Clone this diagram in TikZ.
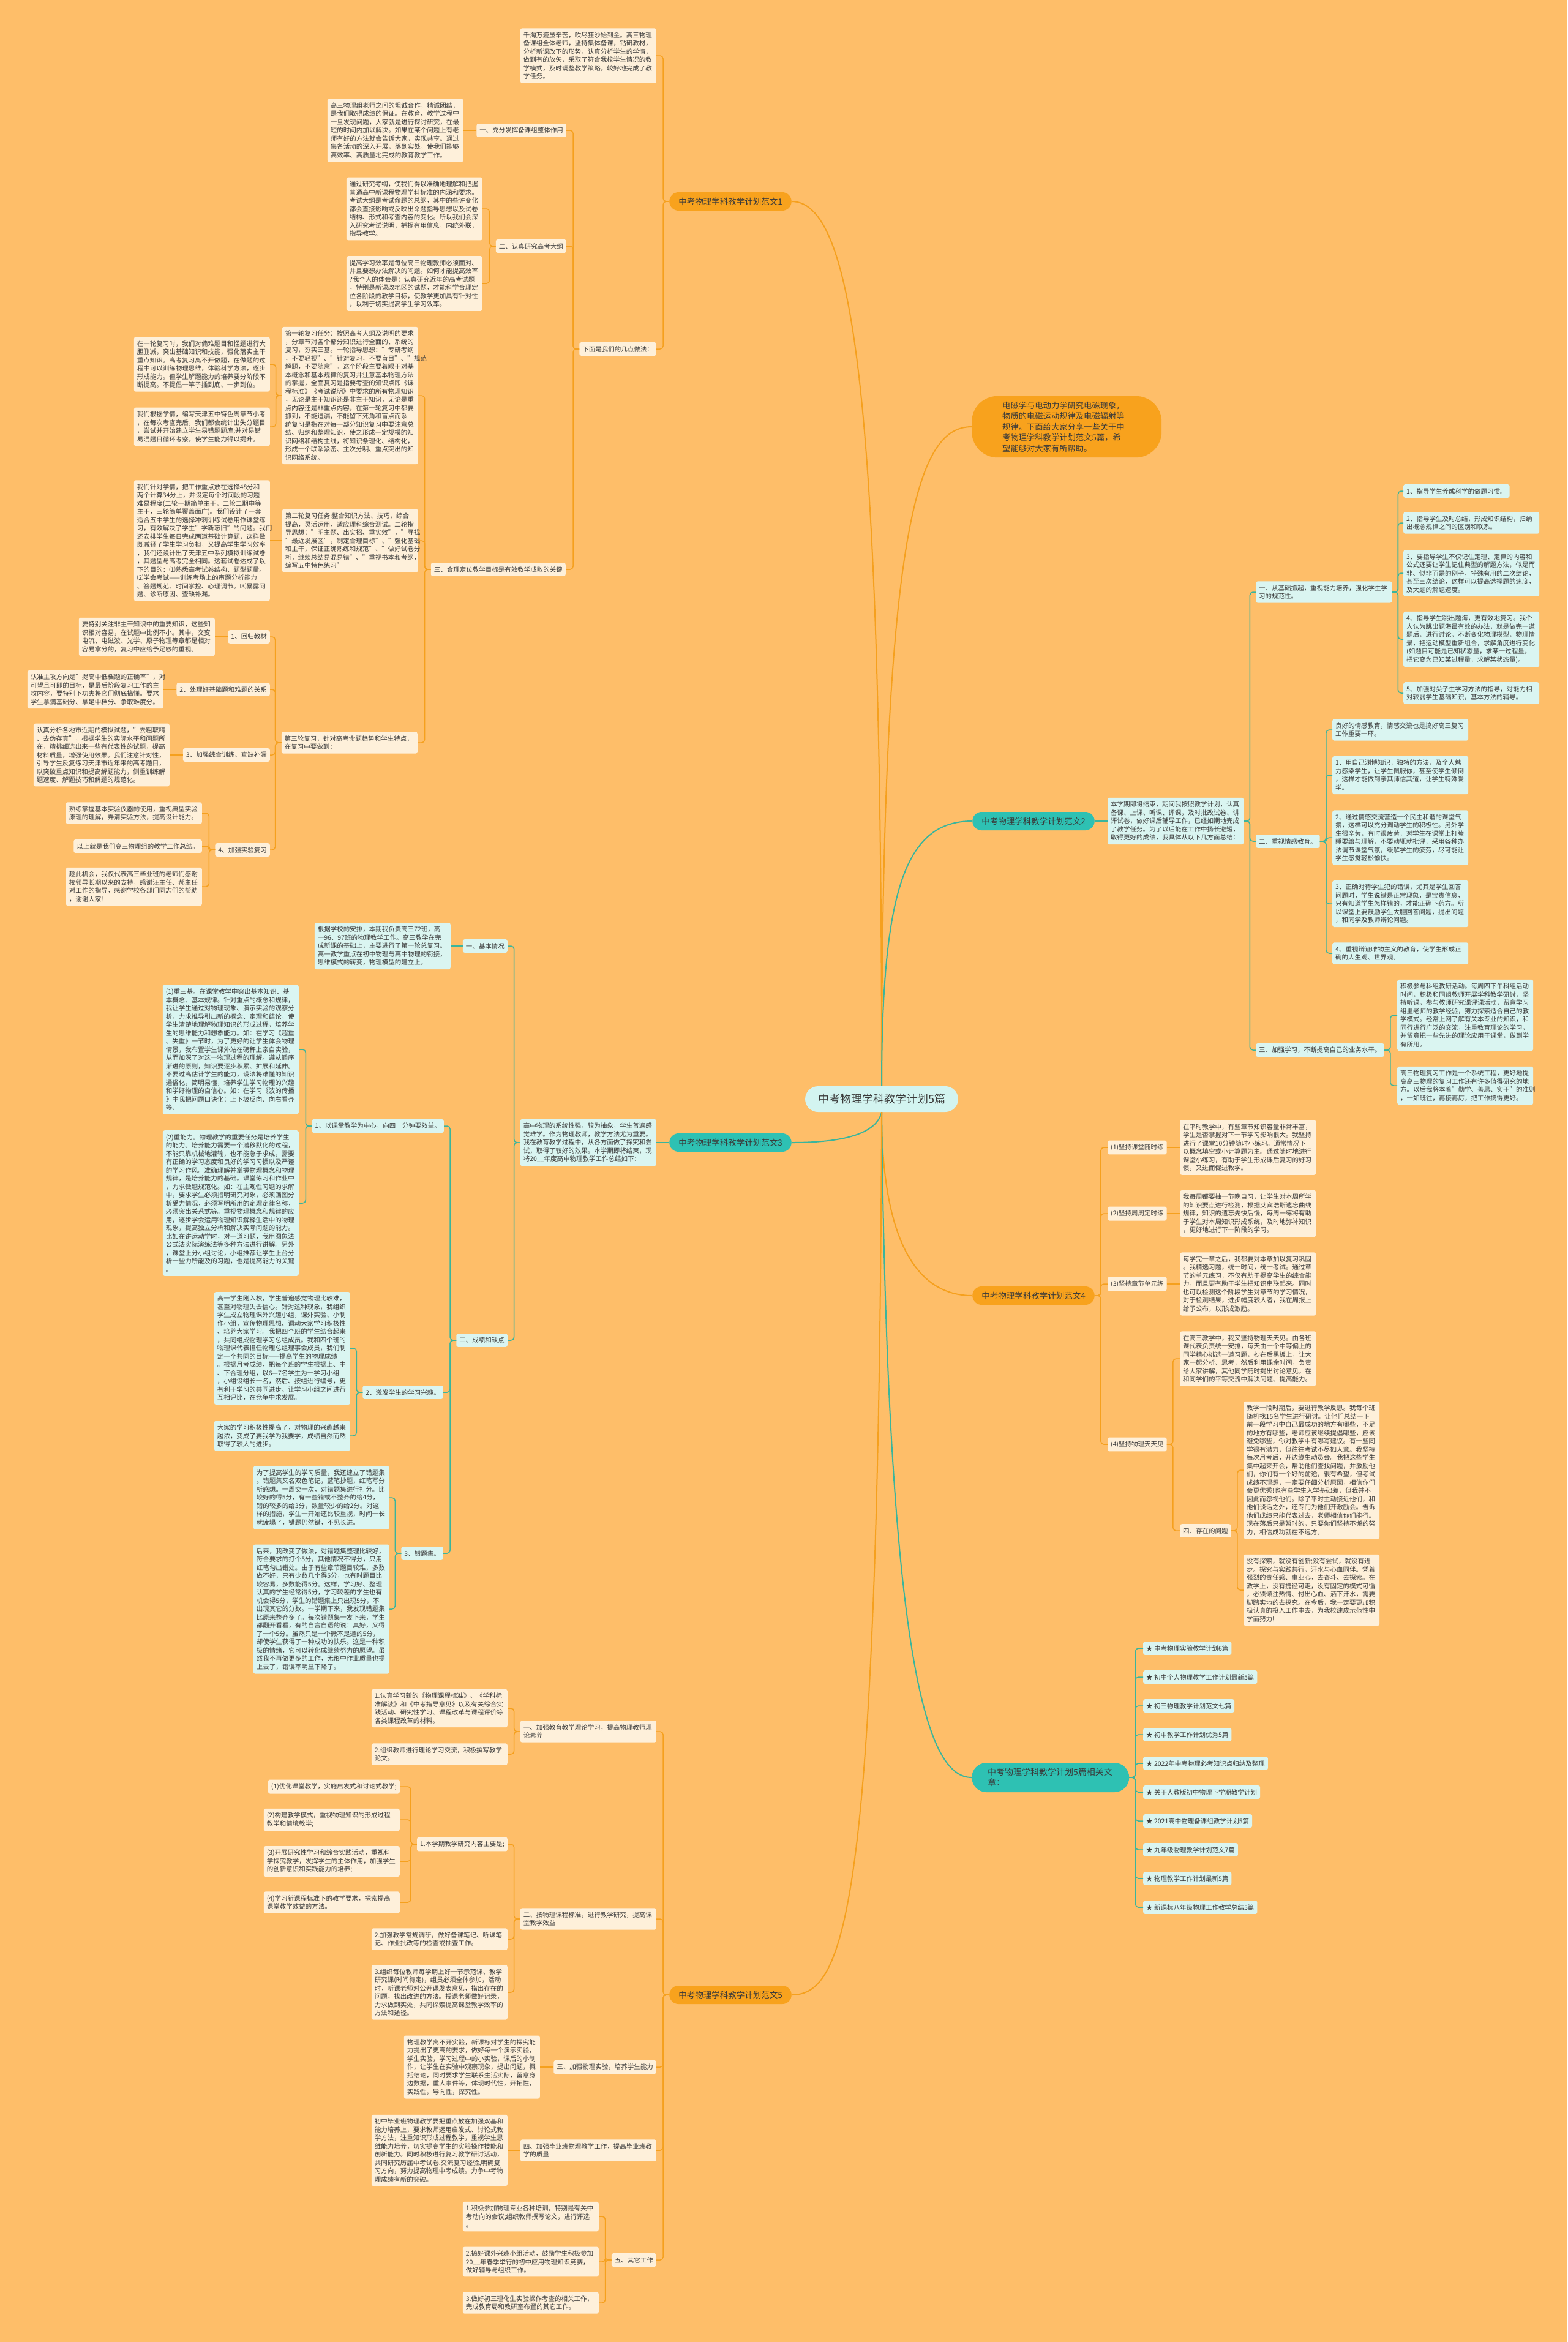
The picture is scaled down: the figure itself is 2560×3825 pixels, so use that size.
\documentclass[tikz,border=0pt]{standalone}
\usepackage{fontspec}
\setmainfont{Noto Sans CJK SC}
\definecolor{paper}{HTML}{FEBE69}
\definecolor{cream}{HTML}{FEF0DA}
\definecolor{mint}{HTML}{DAF5F1}
\definecolor{amber}{HTML}{F8A21D}
\definecolor{teal2}{HTML}{2EC1B3}
\definecolor{amberline}{HTML}{F5A01E}
\definecolor{tealline}{HTML}{3AB59C}
\definecolor{ink}{HTML}{3A3A3A}
\definecolor{rootfill}{HTML}{D3F4F0}
\tikzset{
  bx/.style={rounded corners=3pt,inner xsep=5pt,inner ysep=6pt,align=left,text=ink,
    font=\fontsize{10.5}{13.5}\selectfont},
  obox/.style={bx,fill=cream,text width=212pt},
  tbox/.style={bx,fill=mint,text width=212pt},
  olab/.style={bx,fill=cream},
  tlab/.style={bx,fill=mint},
  branch/.style={rounded corners=15pt,minimum height=30pt,inner xsep=15pt,text=ink,
    font=\fontsize{13.5}{16}\selectfont},
  obranch/.style={branch,fill=amber},
  tbranch/.style={branch,fill=teal2},
  owire/.style={draw=amberline,line width=1.5pt,rounded corners=5pt},
  twire/.style={draw=tealline,line width=1.5pt,rounded corners=5pt},
  omain/.style={draw=amberline,line width=2pt},
  tmain/.style={draw=tealline,line width=2pt}}
\begin{document}
\begin{tikzpicture}[x=1pt,y=-1pt]
\useasboundingbox (0,0) rectangle (2560,3825);
\fill[paper] (0,0) rectangle (2560,3825);

% centre, intro
\node[fill=rootfill,rounded corners=21pt,minimum height=42pt,inner xsep=21pt,text=ink,
  font=\fontsize{18}{22}\selectfont] (root) at (1440,1795) {中考物理学科教学计划5篇};
\node[fill=amber,rounded corners=42pt,text width=210pt,inner xsep=50pt,inner ysep=9pt,align=left,
  text=ink,font=\fontsize{13.3}{17.5}\selectfont,anchor=west] (intro) at (1587,697)
  {电磁学与电动力学研究电磁现象，\\物质的电磁运动规律及电磁辐射等\\规律。下面给大家分享一些关于中\\考物理学科教学计划范文5篇，希\\望能够对大家有所帮助。};

% branch 1
\node[obranch] (b1) at (1193,329) {中考物理学科教学计划范文1};
\node[obox,anchor=east] (p1a) at (1072,91) {千淘万漉虽辛苦，吹尽狂沙始到金。高三物理\\备课组全体老师，坚持集体备课，钻研教材，\\分析新课改下的形势，认真分析学生的学情，\\做到有的放矢，采取了符合我校学生情况的教\\学模式，及时调整教学策略，较好地完成了教\\学任务。};
\node[olab,anchor=east] (p1x) at (1072,570) {下面是我们的几点做法：};
\node[olab,anchor=east] (p1s1) at (925,213) {一、充分发挥备课组整体作用};
\node[obox,anchor=east] (p1s1t) at (757,213) {高三物理组老师之间的坦诚合作，精诚团结，\\是我们取得成绩的保证。在教育、教学过程中\\一旦发现问题，大家就是进行探讨研究，在最\\短的时间内加以解决。如果在某个问题上有老\\师有好的方法就会告诉大家，实现共享。通过\\集备活动的深入开展，落到实处，使我们能够\\高效率、高质量地完成的教育教学工作。};
\node[olab,anchor=east] (p1s2) at (925,402) {二、认真研究高考大纲};
\node[obox,anchor=east] (p1s2a) at (788,341) {通过研究考纲，使我们得以准确地理解和把握\\普通高中新课程物理学科标准的内涵和要求。\\考试大纲是考试命题的总纲，其中的些许变化\\都会直接影响或反映出命题指导思想以及试卷\\结构、形式和考查内容的变化。所以我们会深\\入研究考试说明，捕捉有用信息，内统外联，\\指导教学。};
\node[obox,anchor=east] (p1s2b) at (788,463) {提高学习效率是每位高三物理教师必须面对、\\并且要想办法解决的问题。如何才能提高效率\\?我个人的体会是：认真研究近年的高考试题\\，特别是新课改地区的试题，才能科学合理定\\位各阶段的教学目标，使教学更加具有针对性\\，以利于切实提高学生学习效率。};
\node[olab,anchor=east] (p1s3) at (924,930) {三、合理定位教学目标是有效教学成败的关键};
\node[obox,anchor=east] (p1r1) at (683,646) {第一轮复习任务：按照高考大纲及说明的要求\\，分章节对各个部分知识进行全面的、系统的\\复习，夯实三基。一轮指导思想："专研考纲\\，不要轻视"、"针对复习，不要盲目"、"规范\\解题，不要随意"。这个阶段主要着眼于对基\\本概念和基本规律的复习并注意基本物理方法\\的掌握，全面复习是指要考查的知识点即《课\\程标准》《考试说明》中要求的所有物理知识\\，无论是主干知识还是非主干知识，无论是重\\点内容还是非重点内容，在第一轮复习中都要\\抓到，不能遗漏，不能留下死角和盲点而系\\统复习是指在对每一部分知识复习中要注意总\\结、归纳和整理知识，使之形成一定规模的知\\识网络和结构主线，将知识条理化、结构化，\\形成一个联系紧密、主次分明、重点突出的知\\识网络系统。};
\node[obox,anchor=east] (p1r1a) at (441,595) {在一轮复习时，我们对偏难题目和怪题进行大\\胆删减，突出基础知识和技能，强化落实主干\\重点知识。高考复习离不开做题，在做题的过\\程中可以训练物理思维，体验科学方法，逐步\\形成能力。但学生解题能力的培养要分阶段不\\断提高。不提倡一竿子插到底、一步到位。};
\node[obox,anchor=east] (p1r1b) at (441,697) {我们根据学情，编写天津五中特色周章节小考\\，在每次考查完后，我们都会统计出失分题目\\，尝试并开始建立学生易错题题库;并对易错\\易混题目循环考察，使学生能力得以提升。};
\node[obox,anchor=east] (p1r2) at (683,883) {第二轮复习任务:整合知识方法、技巧，综合\\提高，灵活运用，适应理科综合测试。二轮指\\导思想："明主题、出实招、重实效"，"寻找\\'最近发展区'，制定合理目标"、"强化基础\\和主干，保证正确熟练和规范"、"做好试卷分\\析，继续总结易混易错"、"重视书本和考纲，\\编写五中特色练习"};
\node[obox,anchor=east] (p1r2a) at (441,883) {我们针对学情，把工作重点放在选择48分和\\两个计算34分上，并设定每个时间段的习题\\难易程度(二轮一期简单主干，二轮二期中等\\主干，三轮简单覆盖面广)。我们设计了一套\\适合五中学生的选择冲刺训练试卷用作课堂练\\习，有效解决了学生"学新忘旧"的问题。我们\\还安排学生每日完成两道基础计算题，这样做\\既减轻了学生学习负担，又提高学生学习效率\\，我们还设计出了天津五中系列模拟训练试卷\\，其题型与高考完全相同。这套试卷达成了以\\下的目的：⑴熟悉高考试卷结构、题型题量。\\⑵学会考试——训练考场上的审题分析能力\\、答题规范、时间掌控、心理调节。⑶暴露问\\题、诊断原因、查缺补漏。};
\node[obox,anchor=east] (p1r3) at (682,1213) {第三轮复习，针对高考命题趋势和学生特点，\\在复习中要做到：};
\node[olab,anchor=east] (p1k1) at (441,1040) {1、回归教材};
\node[obox,anchor=east] (p1k1t) at (351,1040) {要特别关注非主干知识中的重要知识，这些知\\识相对容易，在试题中比例不小。其中，交变\\电流、电磁波、光学、原子物理等章都是相对\\容易拿分的，复习中应给予足够的重视。};
\node[olab,anchor=east] (p1k2) at (441,1126) {2、处理好基础题和难题的关系};
\node[obox,anchor=east] (p1k2t) at (267,1126) {认准主攻方向是"提高中低档题的正确率"，对\\可望且可即的目标，是最后阶段复习工作的主\\攻内容，要特别下功夫将它们彻底搞懂。要求\\学生拿满基础分、拿足中档分、争取难度分。};
\node[olab,anchor=east] (p1k3) at (441,1233) {3、加强综合训练、查缺补漏};
\node[obox,anchor=east] (p1k3t) at (277,1233) {认真分析各地市近期的模拟试题，"去粗取精\\、去伪存真"，根据学生的实际水平和问题所\\在，精挑细选出来一些有代表性的试题，提高\\材料质量，增强使用效果。我们注意针对性，\\引导学生反复练习天津市近年来的高考题目，\\以突破重点知识和提高解题能力，侧重训练解\\题速度、解题技巧和解题的规范化。};
\node[olab,anchor=east] (p1k4) at (441,1388) {4、加强实验复习};
\node[obox,anchor=east] (p1k4a) at (330,1328) {熟练掌握基本实验仪器的使用，重视典型实验\\原理的理解，弄清实验方法，提高设计能力。};
\node[olab,anchor=east] (p1k4b) at (330,1382) {以上就是我们高三物理组的教学工作总结。};
\node[obox,anchor=east] (p1k4c) at (330,1448) {趁此机会，我仅代表高三毕业班的老师们感谢\\校领导长期以来的支持，感谢汪主任、郝主任\\对工作的指导，感谢学校各部门同志们的帮助\\，谢谢大家!};

% branch 3
\node[tbranch] (b3) at (1193,1866) {中考物理学科教学计划范文3};
\node[tbox,anchor=east] (p3a) at (1072,1866) {高中物理的系统性强，较为抽象，学生普遍感\\觉难学。作为物理教师，教学方法尤为重要。\\我在教育教学过程中，从各方面做了探究和尝\\试，取得了较好的效果。本学期即将结束，现\\将20\_\_年度高中物理教学工作总结如下：};
\node[tlab,anchor=east] (p3s1) at (829,1545) {一、基本情况};
\node[tbox,anchor=east] (p3s1t) at (736,1545) {根据学校的安排，本期我负责高三72班，高\\一96、97班的物理教学工作。高三教学在完\\成新课的基础上，主要进行了第一轮总复习。\\高一教学重点在初中物理与高中物理的衔接，\\思维模式的转变，物理模型的建立上。};
\node[tlab,anchor=east] (p3s2) at (829,2189) {二、成绩和缺点};
\node[tlab,anchor=east] (p3k1) at (725,1839) {1、以课堂教学为中心，向四十分钟要效益。};
\node[tbox,anchor=east] (p3k1a) at (488,1714) {(1)重三基。在课堂教学中突出基本知识、基\\本概念、基本规律。针对重点的概念和规律，\\我让学生通过对物理现象、演示实验的观察分\\析，力求推导引出新的概念、定理和结论，使\\学生清楚地理解物理知识的形成过程，培养学\\生的思维能力和想象能力。如：在学习《超重\\、失重》一节时，为了更好的让学生体会物理\\情景，我布置学生课外站在磅秤上亲自实验，\\从而加深了对这一物理过程的理解。遵从循序\\渐进的原则，知识要逐步积累、扩展和延伸。\\不要过高估计学生的能力，设法将难懂的知识\\通俗化，简明易懂，培养学生学习物理的兴趣\\和学好物理的自信心。如：在学习《波的传播\\》中我把问题口诀化：上下坡反向、向右看齐\\等。};
\node[tbox,anchor=east] (p3k1b) at (488,1965) {(2)重能力。物理教学的重要任务是培养学生\\的能力。培养能力需要一个潜移默化的过程，\\不能只靠机械地灌输，也不能急于求成，需要\\有正确的学习态度和良好的学习习惯以及严谨\\的学习作风。准确理解并掌握物理概念和物理\\规律，是培养能力的基础。课堂练习和作业中\\，力求做题规范化。如：在主观性习题的求解\\中，要求学生必须指明研究对象，必须画图分\\析受力情况，必须写明所用的定理定律名称，\\必须突出关系式等。重视物理概念和规律的应\\用，逐步学会运用物理知识解释生活中的物理\\现象，提高独立分析和解决实际问题的能力。\\比如在讲运动学时，对一道习题，我用图象法\\公式法实际演练法等多种方法进行讲解。另外\\，课堂上分小组讨论，小组推荐让学生上台分\\析一些力所能及的习题，也是提高能力的关键\\。};
\node[tlab,anchor=east] (p3k2) at (724,2274) {2、激发学生的学习兴趣。};
\node[tbox,anchor=east] (p3k2a) at (572,2202) {高一学生刚入校，学生普遍感觉物理比较难，\\甚至对物理失去信心。针对这种现象，我组织\\学生成立物理课外兴趣小组，课外实验、小制\\作小组，宣传物理思想、调动大家学习积极性\\、培养大家学习。我把四个班的学生结合起来\\，共同组成物理学习总组成员。我和四个班的\\物理课代表担任物理总组理事会成员，我们制\\定一个共同的目标——提高学生的物理成绩\\。根据月考成绩，把每个班的学生根据上、中\\、下合理分组，以6—7名学生为一学习小组\\，小组设组长一名，然后、按组进行编号，更\\有利于学习的共同进步。让学习小组之间进行\\互相评比，在竞争中求发展。};
\node[tbox,anchor=east] (p3k2b) at (572,2345) {大家的学习积极性提高了，对物理的兴趣越来\\越浓，变成了要我学为我要学，成绩自然而然\\取得了较大的进步。};
\node[tlab,anchor=east] (p3k3) at (724,2537) {3、错题集。};
\node[tbox,anchor=east] (p3k3a) at (636,2446) {为了提高学生的学习质量，我还建立了错题集\\。错题集又名双色笔记，蓝笔抄题，红笔写分\\析感想。一周交一次，对错题集进行打分。比\\较好的得5分，有一些错或不整齐的给4分，\\错的较多的给3分，数量较少的给2分。对这\\样的措施，学生一开始还比较重视，时间一长\\就疲塌了，错题仍然错，不见长进。};
\node[tbox,anchor=east] (p3k3b) at (636,2628) {后来，我改变了做法，对错题集整理比较好，\\符合要求的打个5分，其他情况不得分，只用\\红笔勾出错处。由于有些章节题目较难，多数\\做不好，只有少数几个得5分，也有时题目比\\较容易，多数能得5分。这样，学习好、整理\\认真的学生经常得5分，学习较差的学生也有\\机会得5分，学生的错题集上只出现5分，不\\出现其它的分数。一学期下来，我发现错题集\\比原来整齐多了。每次错题集一发下来，学生\\都翻开看看，有的自言自语的说：真好，又得\\了一个5分。虽然只是一个微不足道的5分，\\却使学生获得了一种成功的快乐。这是一种积\\极的情绪，它可以转化成继续努力的愿望。虽\\然我不再做更多的工作，无形中作业质量也提\\上去了，错误率明显下降了。};

% branch 5
\node[obranch] (b5) at (1193,3258) {中考物理学科教学计划范文5};
\node[obox,anchor=east] (p5s1) at (1072,2828) {一、加强教育教学理论学习，提高物理教师理\\论素养};
\node[obox,anchor=east] (p5s1a) at (829,2790) {1.认真学习新的《物理课程标准》、《学科标\\准解读》和《中考指导意见》以及有关综合实\\践活动、研究性学习、课程改革与课程评价等\\各类课程改革的材料。};
\node[obox,anchor=east] (p5s1b) at (829,2865) {2.组织教师进行理论学习交流，积极撰写教学\\论文。};
\node[obox,anchor=east] (p5s2) at (1072,3134) {二、按物理课程标准，进行教学研究，提高课\\堂教学效益};
\node[olab,anchor=east] (p5k1) at (829,3012) {1.本学期教学研究内容主要是;};
\node[olab,anchor=east] (p5k1a) at (653,2918) {(1)优化课堂教学，实施启发式和讨论式教学;};
\node[obox,anchor=east] (p5k1b) at (653,2972) {(2)构建教学模式，重视物理知识的形成过程\\教学和情境教学;};
\node[obox,anchor=east] (p5k1c) at (653,3040) {(3)开展研究性学习和综合实践活动，重视科\\学探究教学，发挥学生的主体作用，加强学生\\的创新意识和实践能力的培养;};
\node[obox,anchor=east] (p5k1d) at (653,3107) {(4)学习新课程标准下的教学要求，探索提高\\课堂教学效益的方法。};
\node[obox,anchor=east] (p5k2) at (829,3167) {2.加强教学常规调研，做好备课笔记、听课笔\\记、作业批改等的检查或抽查工作。};
\node[obox,anchor=east] (p5k3) at (829,3254) {3.组织每位教师每学期上好一节示范课、教学\\研究课(时间待定)，组员必须全体参加，活动\\时，听课老师对公开课发表意见，指出存在的\\问题，找出改进的方法。授课老师做好记录，\\力求做到实处，共同探索提高课堂教学效率的\\方法和途径。};
\node[olab,anchor=east] (p5s3) at (1072,3376) {三、加强物理实验，培养学生能力};
\node[obox,anchor=east] (p5s3t) at (882,3376) {物理教学离不开实验，新课标对学生的探究能\\力提出了更高的要求，做好每一个演示实验，\\学生实验，学习过程中的小实验，课后的小制\\作，让学生在实验中观察现象，提出问题，概\\括结论，同时要求学生联系生活实际，留意身\\边数据，重大事件等，体现时代性，开拓性，\\实践性，导向性，探究性。};
\node[obox,anchor=east] (p5s4) at (1072,3512) {四、加强毕业班物理教学工作，提高毕业班教\\学的质量};
\node[obox,anchor=east] (p5s4t) at (829,3512) {初中毕业班物理教学要把重点放在加强双基和\\能力培养上，要求教师运用启发式、讨论式教\\学方法，注重知识形成过程教学，重视学生思\\维能力培养，切实提高学生的实验操作技能和\\创新能力。同时积极进行复习教学研讨活动，\\共同研究历届中考试卷,交流复习经验,明确复\\习方向，努力提高物理中考成绩。力争中考物\\理成绩有新的突破。};
\node[olab,anchor=east] (p5s5) at (1072,3691) {五、其它工作};
\node[obox,anchor=east] (p5s5a) at (978,3620) {1.积极参加物理专业各种培训，特别是有关中\\考动向的会议;组织教师撰写论文，进行评选\\。};
\node[obox,anchor=east] (p5s5b) at (978,3694) {2.搞好课外兴趣小组活动，鼓励学生积极参加\\20\_\_年春季举行的初中应用物理知识竞赛，\\做好辅导与组织工作。};
\node[obox,anchor=east] (p5s5c) at (978,3761) {3.做好初三理化生实验操作考查的相关工作，\\完成教育局和教研室布置的其它工作。};

% branch 2
\node[tbranch] (b2) at (1688,1341) {中考物理学科教学计划范文2};
\node[tbox,anchor=west] (p2a) at (1809,1341) {本学期即将结束，期间我按照教学计划，认真\\备课、上课、听课、评课，及时批改试卷、讲\\评试卷，做好课后辅导工作，已经如期地完成\\了教学任务。为了以后能在工作中扬长避短，\\取得更好的成绩，我具体从以下几方面总结：};
\node[tbox,anchor=west] (p2s1) at (2051,967) {一、从基础抓起，重视能力培养，强化学生学\\习的规范性。};
\node[tlab,anchor=west] (p2s1a) at (2292,802) {1、指导学生养成科学的做题习惯。};
\node[tbox,anchor=west] (p2s1b) at (2292,854) {2、指导学生及时总结，形成知识结构，归纳\\出概念规律之间的区别和联系。};
\node[tbox,anchor=west] (p2s1c) at (2292,936) {3、要指导学生不仅记住定理、定律的内容和\\公式还要让学生记住典型的解题方法，似是而\\非、似非而是的例子，特殊有用的二次结论，\\甚至三次结论，这样可以提高选择题的速度，\\及大题的解题速度。};
\node[tbox,anchor=west] (p2s1d) at (2292,1044) {4、指导学生跳出题海，更有效地复习。我个\\人认为跳出题海最有效的办法，就是做完一道\\题后，进行讨论，不断变化物理模型，物理情\\景，把运动模型重新组合，求解角度进行变化\\(如题目可能是已知状态量，求某一过程量，\\把它变为已知某过程量，求解某状态量)。};
\node[tbox,anchor=west] (p2s1e) at (2292,1132) {5、加强对尖子生学习方法的指导，对能力相\\对较弱学生基础知识，基本方法的辅导。};
\node[tlab,anchor=west] (p2s2) at (2051,1374) {二、重视情感教育。};
\node[tbox,anchor=west] (p2s2a) at (2176,1192) {良好的情感教育，情感交流也是搞好高三复习\\工作重要一环。};
\node[tbox,anchor=west] (p2s2b) at (2176,1266) {1、用自己渊博知识，独特的方法，及个人魅\\力感染学生，让学生佩服你，甚至使学生倾倒\\，这样才能做到亲其师信其道，让学生特殊爱\\学。};
\node[tbox,anchor=west] (p2s2c) at (2176,1368) {2、通过情感交流营造一个民主和谐的课堂气\\氛，这样可以充分调动学生的积极性。另外学\\生很辛劳，有时很疲劳，对学生在课堂上打瞌\\睡要给与理解，不要动辄就批评，采用各种办\\法调节课堂气氛，缓解学生的疲劳，尽可能让\\学生感觉轻松愉快。};
\node[tbox,anchor=west] (p2s2d) at (2176,1476) {3、正确对待学生犯的错误，尤其是学生回答\\问题时，学生说错是正常现象，是宝贵信息，\\只有知道学生怎样错的，才能正确下药方。所\\以课堂上要鼓励学生大胆回答问题，提出问题\\，和同学及教师辩论问题。};
\node[tbox,anchor=west] (p2s2e) at (2176,1557) {4、重视辩证唯物主义的教育，使学生形成正\\确的人生观、世界观。};
\node[tlab,anchor=west] (p2s3) at (2051,1715) {三、加强学习，不断提高自己的业务水平。};
\node[tbox,anchor=west] (p2s3a) at (2282,1658) {积极参与科组教研活动。每周四下午科组活动\\时间，积极和同组教师开展学科教学研讨，坚\\持听课，参与教师研究课评课活动，留意学习\\组里老师的教学经验，努力探索适合自己的教\\学模式。经常上网了解有关本专业的知识，和\\同行进行广泛的交流，注重教育理论的学习，\\并留意把一些先进的理论应用于课堂，做到学\\有所用。};
\node[tbox,anchor=west] (p2s3b) at (2282,1773) {高三物理复习工作是一个系统工程，更好地提\\高高三物理的复习工作还有许多值得研究的地\\方。以后我将本着"勤学、善思、实干"的准则\\，一如既往，再接再厉，把工作搞得更好。};

% branch 4
\node[obranch] (b4) at (1688,2116) {中考物理学科教学计划范文4};
\node[olab,anchor=west] (p4k1) at (1809,1874) {(1)坚持课堂随时练};
\node[obox,anchor=west] (p4k1t) at (1927,1874) {在平时教学中，有些章节知识容量非常丰富，\\学生是否掌握对下一节学习影响很大。我坚持\\进行了课堂10分钟随时小练习。通常情况下\\以概念填空或小计算题为主。通过随时地进行\\课堂小练习，有助于学生形成课后复习的好习\\惯，又进而促进教学。};
\node[olab,anchor=west] (p4k2) at (1809,1982) {(2)坚持周周定时练};
\node[obox,anchor=west] (p4k2t) at (1927,1982) {我每周都要抽一节晚自习，让学生对本周所学\\的知识要点进行检测，根据艾宾浩斯遗忘曲线\\规律，知识的遗忘先快后慢，每周一练将有助\\于学生对本周知识形成系统，及时地弥补知识\\，更好地进行下一阶段的学习。};
\node[olab,anchor=west] (p4k3) at (1809,2097) {(3)坚持章节单元练};
\node[obox,anchor=west] (p4k3t) at (1927,2097) {每学完一章之后，我都要对本章加以复习巩固\\。我精选习题，统一时间，统一考试。通过章\\节的单元练习，不仅有助于提高学生的综合能\\力，而且更有助于学生把知识串联起来。同时\\也可以检测这个阶段学生对章节的学习情况，\\对于检测结果，进步幅度较大者，我在周报上\\给予公布，以形成激励。};
\node[olab,anchor=west] (p4k4) at (1809,2359) {(4)坚持物理天天见};
\node[obox,anchor=west] (p4k4a) at (1927,2219) {在高三教学中，我又坚持物理天天见。由各班\\课代表负责统一安排，每天由一个中等偏上的\\同学精心挑选一道习题，抄在后黑板上，让大\\家一起分析、思考，然后利用课余时间，负责\\给大家讲解，其他同学随时提出讨论意见，在\\和同学们的平等交流中解决问题、提高能力。};
\node[olab,anchor=west] (p4k4b) at (1927,2500) {四、存在的问题};
\node[obox,anchor=west] (p4q1) at (2031,2401) {教学一段时期后，要进行教学反思。我每个班\\随机找15名学生进行研讨。让他们总结一下\\前一段学习中自己最成功的地方有哪些，不足\\的地方有哪些，老师应该继续提倡哪些，应该\\避免哪些，你对教学中有哪写建议。有一些同\\学很有潜力，但往往考试不尽如人意。我坚持\\每次月考后，开边缘生动员会。我把这些学生\\集中起来开会，帮助他们查找问题，并激励他\\们，你们有一个好的前途，很有希望，但考试\\成绩不理想，一定要仔细分析原因，相信你们\\会更优秀!也有些学生入学基础差，但我并不\\因此而忽视他们。除了平时主动接近他们，和\\他们谈话之外，还专门为他们开激励会。告诉\\他们成绩只能代表过去，老师相信你们能行。\\现在落后只是暂时的，只要你们坚持不懈的努\\力，相信成功就在不远方。};
\node[obox,anchor=west] (p4q2) at (2031,2597) {没有探索，就没有创新;没有尝试，就没有进\\步。探究与实践共行，汗水与心血同伴。凭着\\强烈的责任感、事业心，去奋斗、去探索。在\\教学上，没有捷径可走，没有固定的模式可循\\，必须倾注热情、付出心血、洒下汗水，需要\\脚踏实地的去探究。在今后，我一定要更加积\\极认真的投入工作中去，为我校建成示范性中\\学而努力!};

% related
\node[fill=teal2,rounded corners=24pt,text width=205pt,inner xsep=26pt,inner ysep=9pt,align=left,
  text=ink,font=\fontsize{14}{17}\selectfont,anchor=west] (rel) at (1587,2903) {中考物理学科教学计划5篇相关文\\章：};
\foreach \t [count=\i] in {中考物理实验教学计划6篇,初中个人物理教学工作计划最新5篇,
  初三物理教学计划范文七篇,初中教学工作计划优秀5篇,2022年中考物理必考知识点归纳及整理,
  关于人教版初中物理下学期教学计划,2021高中物理备课组教学计划5篇,九年级物理教学计划范文7篇,
  物理教学工作计划最新5篇,新课标八年级物理工作教学总结5篇}
  \node[tlab,anchor=west] (rel\i) at (1867,{2645+47*\i}) {★ \t};

% main curves
\draw[omain] (root.north) .. controls (1440,700) and (1400,329) .. (b1.east);
\draw[omain] (root.north) .. controls (1440,850) and (1500,697) .. (intro.west);
\draw[tmain] (root.north) .. controls (1440,1450) and (1480,1341) .. (b2.west);
\draw[tmain] (root.south) .. controls (1430,1860) and (1350,1866) .. (b3.east);
\draw[omain] (root.south) .. controls (1440,1990) and (1480,2116) .. (b4.west);
\draw[tmain] (root.south) .. controls (1450,2750) and (1520,2903) .. (rel.west);
\draw[omain] (root.south) .. controls (1435,3120) and (1380,3258) .. (b5.east);

% wires, left side
\foreach \c in {p1a,p1x} \draw[owire] (b1.west) -- ++(-10,0) |- (\c.east);
\foreach \c in {p1s1,p1s2,p1s3} \draw[owire] (p1x.west) -- ++(-10,0) |- (\c.east);
\draw[owire] (p1s1.west) -- (p1s1t.east);
\foreach \c in {p1s2a,p1s2b} \draw[owire] (p1s2.west) -- ++(-10,0) |- (\c.east);
\foreach \c in {p1r1,p1r2,p1r3} \draw[owire] (p1s3.west) -- ++(-10,0) |- (\c.east);
\foreach \c in {p1r1a,p1r1b} \draw[owire] (p1r1.west) -- ++(-10,0) |- (\c.east);
\draw[owire] (p1r2.west) -- (p1r2a.east);
\foreach \c in {p1k1,p1k2,p1k3,p1k4} \draw[owire] (p1r3.west) -- ++(-10,0) |- (\c.east);
\draw[owire] (p1k1.west) -- (p1k1t.east);
\draw[owire] (p1k2.west) -- (p1k2t.east);
\draw[owire] (p1k3.west) -- (p1k3t.east);
\foreach \c in {p1k4a,p1k4b,p1k4c} \draw[owire] (p1k4.west) -- ++(-10,0) |- (\c.east);

\draw[twire] (b3.west) -- (p3a.east);
\foreach \c in {p3s1,p3s2} \draw[twire] (p3a.west) -- ++(-10,0) |- (\c.east);
\draw[twire] (p3s1.west) -- (p3s1t.east);
\foreach \c in {p3k1,p3k2,p3k3} \draw[twire] (p3s2.west) -- ++(-10,0) |- (\c.east);
\foreach \c in {p3k1a,p3k1b} \draw[twire] (p3k1.west) -- ++(-10,0) |- (\c.east);
\foreach \c in {p3k2a,p3k2b} \draw[twire] (p3k2.west) -- ++(-10,0) |- (\c.east);
\foreach \c in {p3k3a,p3k3b} \draw[twire] (p3k3.west) -- ++(-10,0) |- (\c.east);

\foreach \c in {p5s1,p5s2,p5s3,p5s4,p5s5} \draw[owire] (b5.west) -- ++(-10,0) |- (\c.east);
\foreach \c in {p5s1a,p5s1b} \draw[owire] (p5s1.west) -- ++(-10,0) |- (\c.east);
\foreach \c in {p5k1,p5k2,p5k3} \draw[owire] (p5s2.west) -- ++(-10,0) |- (\c.east);
\foreach \c in {p5k1a,p5k1b,p5k1c,p5k1d} \draw[owire] (p5k1.west) -- ++(-10,0) |- (\c.east);
\draw[owire] (p5s3.west) -- (p5s3t.east);
\draw[owire] (p5s4.west) -- (p5s4t.east);
\foreach \c in {p5s5a,p5s5b,p5s5c} \draw[owire] (p5s5.west) -- ++(-10,0) |- (\c.east);

% wires, right side
\draw[twire] (b2.east) -- (p2a.west);
\foreach \c in {p2s1,p2s2,p2s3} \draw[twire] (p2a.east) -- ++(10,0) |- (\c.west);
\foreach \c in {p2s1a,p2s1b,p2s1c,p2s1d,p2s1e} \draw[twire] (p2s1.east) -- ++(10,0) |- (\c.west);
\foreach \c in {p2s2a,p2s2b,p2s2c,p2s2d,p2s2e} \draw[twire] (p2s2.east) -- ++(10,0) |- (\c.west);
\foreach \c in {p2s3a,p2s3b} \draw[twire] (p2s3.east) -- ++(10,0) |- (\c.west);

\foreach \c in {p4k1,p4k2,p4k3,p4k4} \draw[owire] (b4.east) -- ++(10,0) |- (\c.west);
\draw[owire] (p4k1.east) -- (p4k1t.west);
\draw[owire] (p4k2.east) -- (p4k2t.west);
\draw[owire] (p4k3.east) -- (p4k3t.west);
\foreach \c in {p4k4a,p4k4b} \draw[owire] (p4k4.east) -- ++(10,0) |- (\c.west);
\foreach \c in {p4q1,p4q2} \draw[owire] (p4k4b.east) -- ++(10,0) |- (\c.west);

\foreach \i in {1,...,10} \draw[twire] (rel.east) -- ++(10,0) |- (rel\i.west);
\end{tikzpicture}
\end{document}
